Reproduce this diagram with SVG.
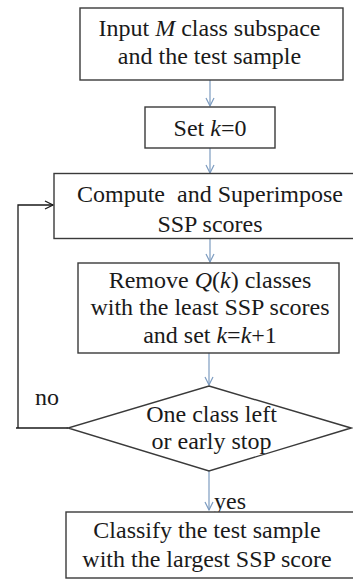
<svg xmlns="http://www.w3.org/2000/svg" width="353" height="579" viewBox="0 0 353 579">
<style>
.box{fill:#fff;stroke:#3a3a3a;stroke-width:1.4}
.t{font-family:"Liberation Serif","Times New Roman",serif;font-size:24px;fill:#1a1a1a;text-anchor:middle}
.l{font-family:"Liberation Serif","Times New Roman",serif;font-size:24px;fill:#1a1a1a}
.c{fill:none;stroke:#7d9cc0;stroke-width:1.2}
.k{fill:none;stroke:#1a1a1a;stroke-width:1.3}
</style>
<defs>
<marker id="a" markerWidth="12" markerHeight="12" refX="9" refY="5" orient="auto" markerUnits="userSpaceOnUse">
<path d="M1,1 L9,5 L1,9" fill="none" stroke="#7d9cc0" stroke-width="1.2"/>
</marker>
<marker id="b" markerWidth="12" markerHeight="12" refX="9" refY="5" orient="auto" markerUnits="userSpaceOnUse">
<path d="M1,1 L9,5 L1,9" fill="none" stroke="#1a1a1a" stroke-width="1.3"/>
</marker>
</defs>
<rect width="353" height="579" fill="#fff"/>
<g id="connectors">
<line class="c" x1="210" y1="80" x2="210" y2="106" marker-end="url(#a)"/>
<line class="c" x1="210" y1="148" x2="210" y2="173" marker-end="url(#a)"/>
<line class="c" x1="210" y1="239" x2="210" y2="262" marker-end="url(#a)"/>
<line class="c" x1="209" y1="353" x2="209" y2="385" marker-end="url(#a)"/>
<line class="c" x1="209" y1="471" x2="209" y2="510" marker-end="url(#a)"/>
<polyline class="k" points="68,428 16,428"/>
<polyline class="k" points="18,428 18,205 53,205" marker-end="url(#b)"/>
<text class="l" x="35" y="405">no</text>
<text class="l" x="214" y="509">yes</text>
</g>
<g id="n1">
<rect class="box" x="80" y="8" width="263" height="72"/>
<text class="t" x="209.5" y="36">Input <tspan font-style="italic">M</tspan> class subspace</text>
<text class="t" x="209.5" y="64">and the test sample</text>
</g>
<g id="n2">
<rect class="box" x="145" y="107" width="130" height="41"/>
<text class="t" x="210" y="136">Set <tspan font-style="italic">k</tspan>=0</text>
</g>
<g id="n3">
<rect class="box" x="54" y="173.5" width="305" height="65"/>
<text class="t" x="210" y="202" xml:space="preserve">Compute  and Superimpose</text>
<text class="t" x="210" y="232">SSP scores</text>
</g>
<g id="n4">
<rect class="box" x="78" y="263" width="261" height="90"/>
<text class="t" x="210" y="288">Remove <tspan font-style="italic">Q</tspan>(<tspan font-style="italic">k</tspan>) classes</text>
<text class="t" x="210" y="315">with the least SSP scores</text>
<text class="t" x="210" y="343">and set <tspan font-style="italic">k</tspan>=<tspan font-style="italic">k</tspan>+1</text>
</g>
<g id="n5">
<polygon class="box" points="209,386 351,428 209,471 68,428"/>
<text class="t" x="211.5" y="422">One class left</text>
<text class="t" x="211.5" y="449">or early stop</text>
</g>
<g id="n6">
<rect class="box" x="66" y="512" width="293" height="66"/>
<text class="t" x="207" y="538">Classify the test sample</text>
<text class="t" x="207" y="567">with the largest SSP score</text>
</g>
</svg>
